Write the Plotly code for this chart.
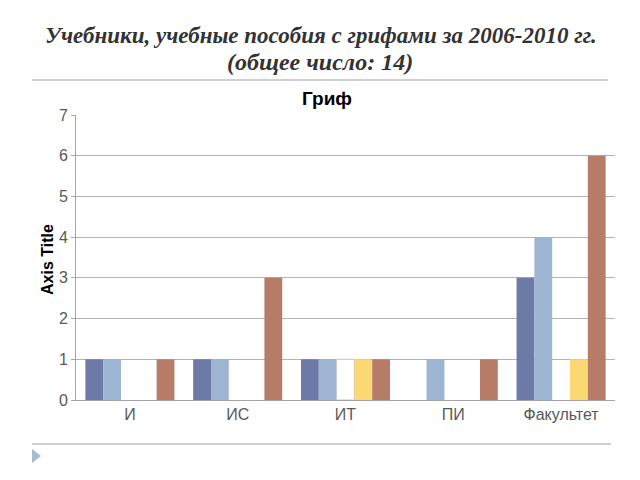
import plotly.graph_objects as go

categories = ["И", "ИС", "ИТ", "ПИ", "Факультет"]
s_dark = [1, 1, 1, 0, 3]
s_light = [1, 1, 1, 1, 4]
s_white = [0, 0, 1, 0, 0]
s_yellow = [0, 0, 1, 0, 1]
s_brown = [1, 3, 1, 1, 6]
y_ticks = [0, 1, 2, 3, 4, 5, 6, 7]

series = [
    (s_dark, "#6d79a6", None),
    (s_light, "#9db5d2", None),
    (s_white, "#ffffff", "#c8c8c8"),
    (s_yellow, "#fbd873", None),
    (s_brown, "#b67c68", None),
]

fig = go.Figure()
for vals, col, lc in series:
    fig.add_trace(go.Bar(
        x=categories, y=vals, marker_color=col,
        marker_line=dict(color=lc if lc else col,
                         width=[1 if (lc and v) else 0 for v in vals]),
        showlegend=False,
    ))

L, R, T, B = 76, 615, 115, 400
W, H = 640, 480

def px(x):
    return (x - L) / (R - L)

def py(y):
    return (B - y) / (B - T)

fig.update_layout(
    width=W, height=H,
    margin=dict(l=L, r=W - R, t=T, b=H - B, pad=0),
    paper_bgcolor="white", plot_bgcolor="white",
    barmode="group", bargap=0.174, bargroupgap=0,
    font=dict(family="Liberation Sans, Arial", color="#595959"),
    xaxis=dict(showgrid=False, showline=True, linecolor="#a6a6a6", linewidth=1,
               ticks="", tickfont=dict(size=16, color="#595959")),
    yaxis=dict(range=[0, 7], tickvals=y_ticks, showgrid=True, gridcolor="#b3b3b3",
               gridwidth=1, showline=True, linecolor="#a6a6a6", linewidth=1,
               zeroline=False, ticks="outside", ticklen=4, tickcolor="#a6a6a6",
               tickfont=dict(size=16, color="#595959")),
    shapes=[
        dict(type="line", xref="paper", yref="paper", x0=px(32), x1=px(608), y0=py(80), y1=py(80),
             line=dict(color="#d0d0d0", width=2)),
        dict(type="line", xref="paper", yref="paper", x0=px(32), x1=px(611), y0=py(444), y1=py(444),
             line=dict(color="#d0d0d0", width=2)),
        dict(type="path", xref="paper", yref="paper",
             path=f"M {px(32)} {py(449)} L {px(41)} {py(456)} L {px(32)} {py(463)} Z",
             fillcolor="#a9bccf", line=dict(width=0)),
    ],
    annotations=[
        dict(text="<b><i>Учебники, учебные пособия с грифами за 2006-2010 гг.</i></b>",
             xref="paper", yref="paper", x=px(321), y=py(35), showarrow=False,
             xanchor="center", yanchor="middle",
             font=dict(family="Liberation Serif, DejaVu Serif", size=23, color="#333333")),
        dict(text="<b><i>(общее число: 14)</i></b>",
             xref="paper", yref="paper", x=px(320), y=py(62), showarrow=False,
             xanchor="center", yanchor="middle",
             font=dict(family="Liberation Serif, DejaVu Serif", size=24, color="#333333")),
        dict(text="<b>Гриф</b>", xref="paper", yref="paper", x=px(327), y=py(98),
             showarrow=False, xanchor="center", yanchor="middle",
             font=dict(family="Liberation Sans, Arial", size=19, color="#000000")),
        dict(text="<b>Axis Title</b>", xref="paper", yref="paper", x=px(47), y=py(260),
             showarrow=False, xanchor="center", yanchor="middle", textangle=-90,
             font=dict(family="Liberation Sans, Arial", size=16, color="#000000")),
    ],
)

fig.write_html("out.html")
